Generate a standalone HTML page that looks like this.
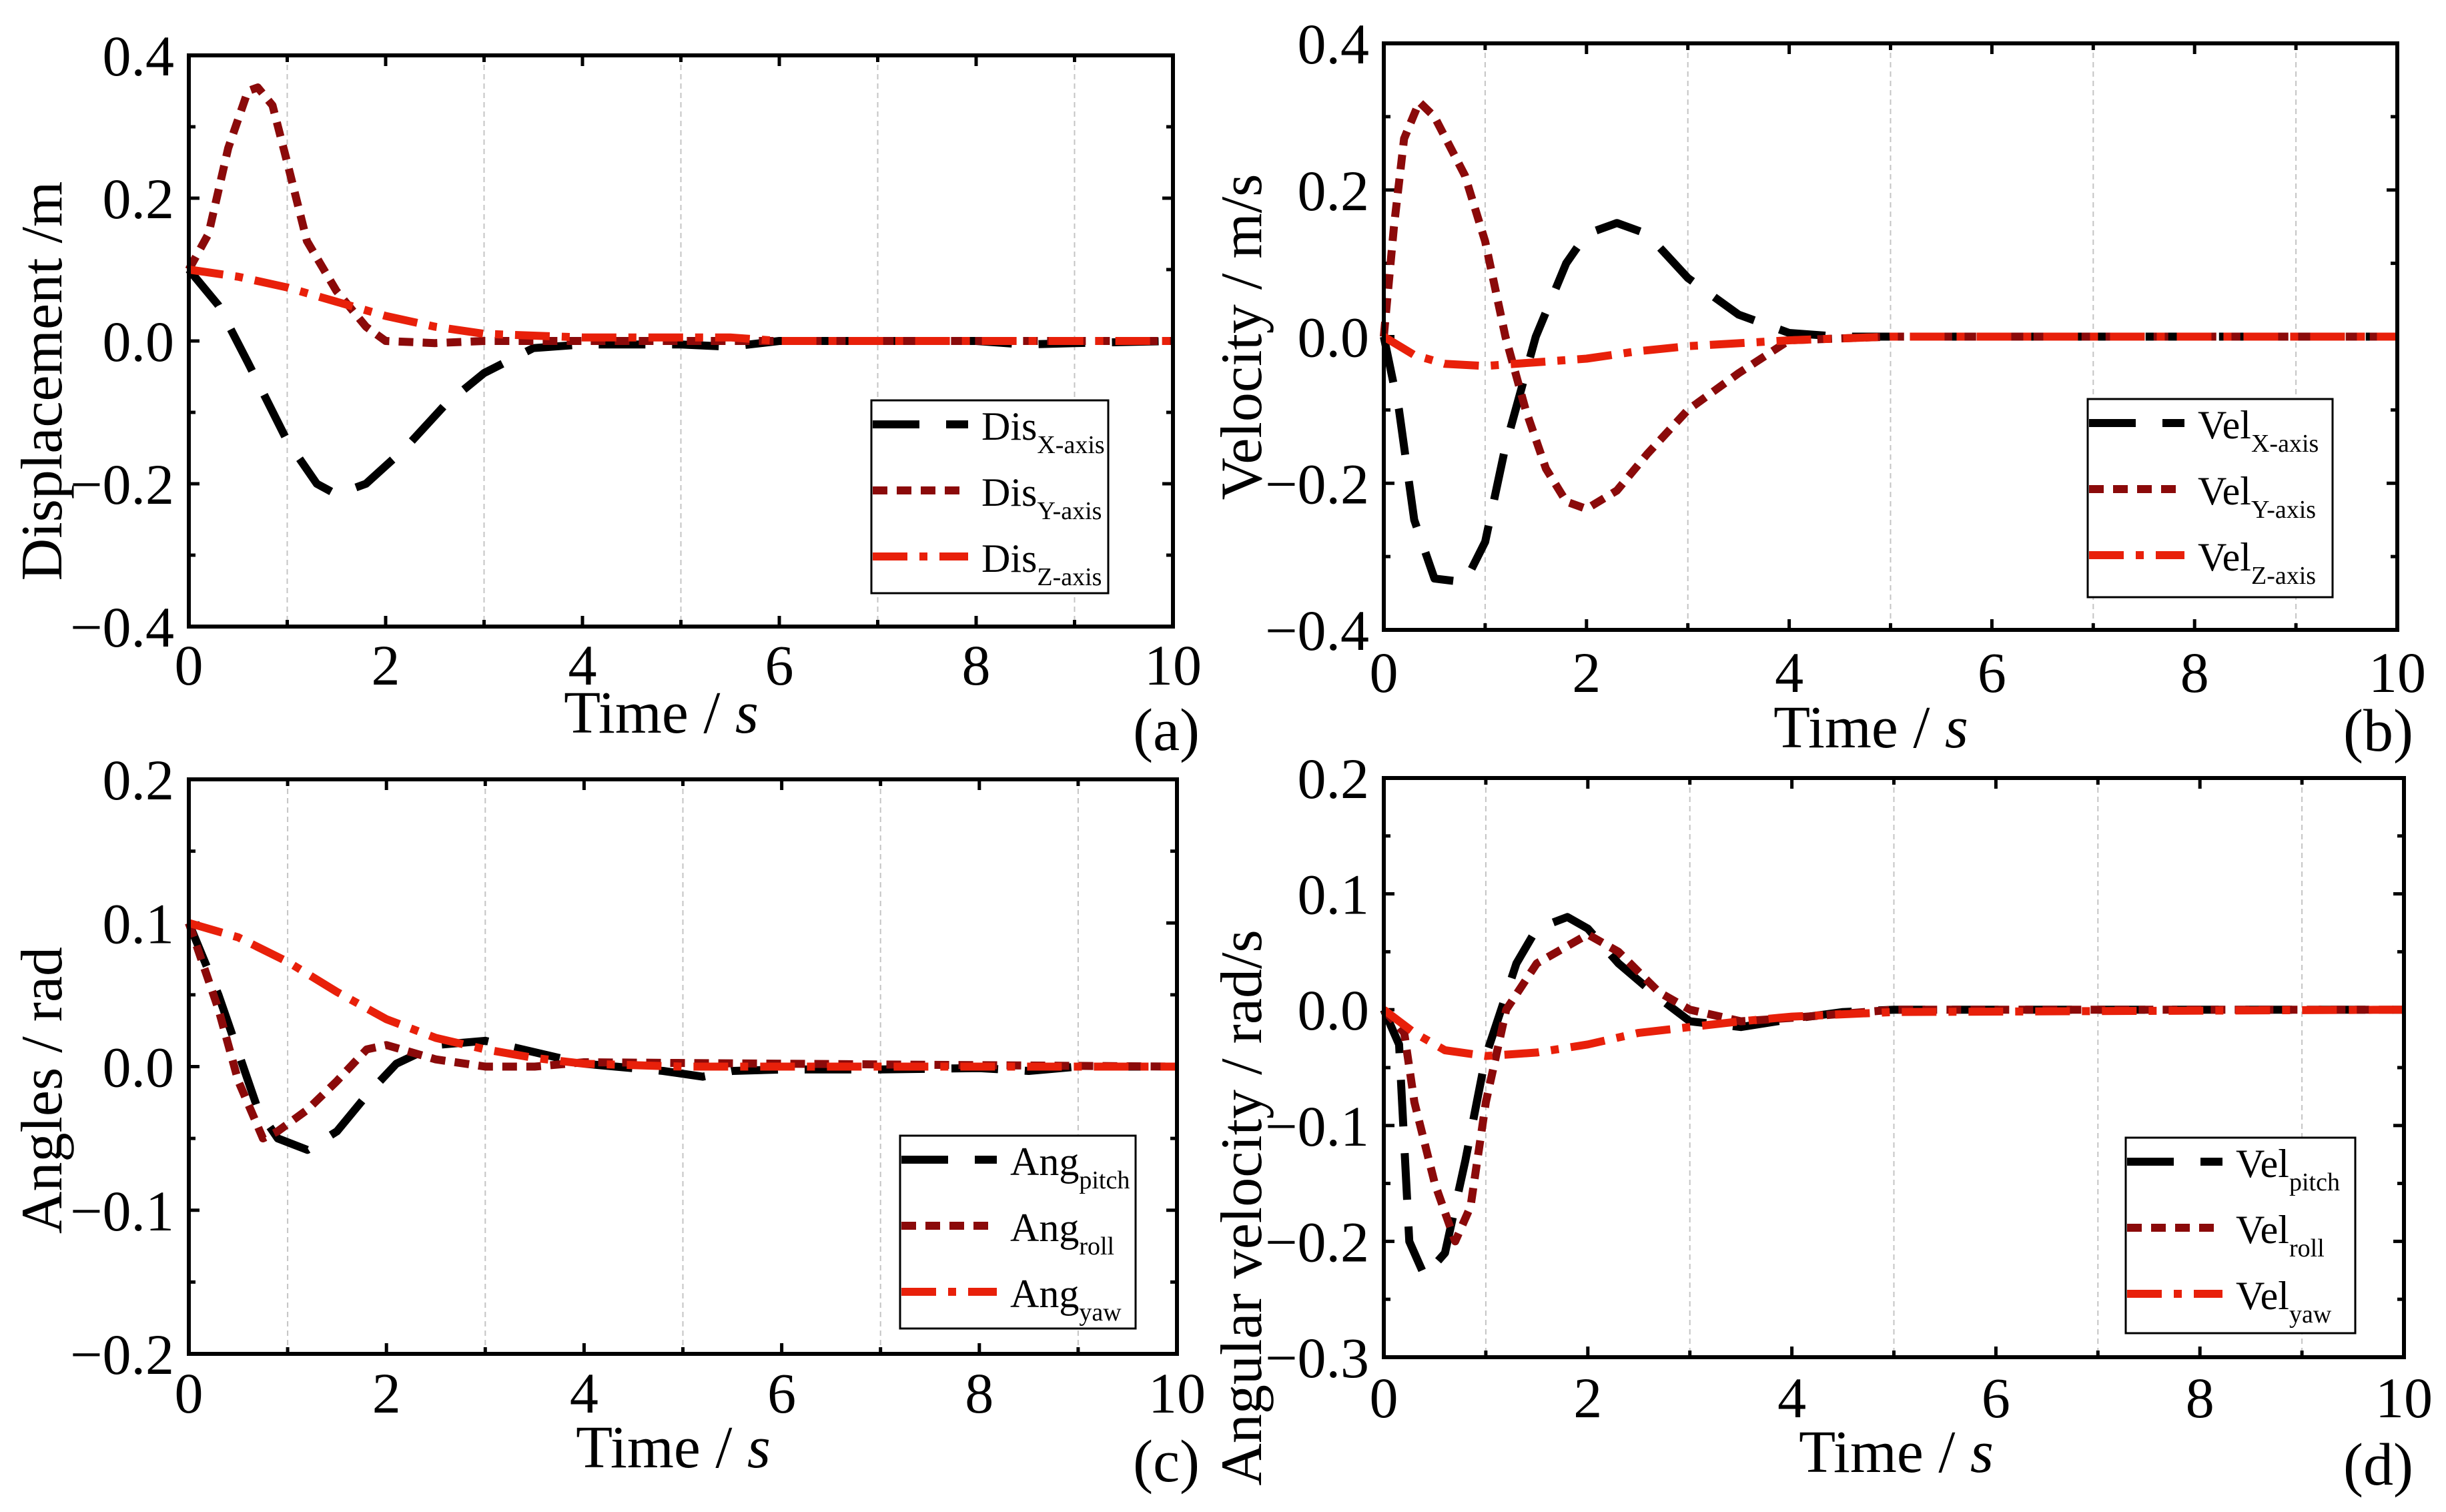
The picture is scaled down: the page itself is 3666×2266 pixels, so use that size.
<!DOCTYPE html>
<html><head><meta charset="utf-8"><style>
html,body{margin:0;padding:0;background:#fff;}
svg{display:block;font-family:"Liberation Serif",serif;}
</style></head><body>
<svg id="fig" width="3666" height="2266" viewBox="0 0 3666 2266" xmlns="http://www.w3.org/2000/svg"></svg>
<script>
// ---- data (time in s) ----
const aT_X=[0,0.3,0.6,1.0,1.3,1.5,1.8,2.2,2.6,3.0,3.5,4,5,5.5,6,7,8,8.5,9,10];
const aV_X=[0.1,0.05,-0.03,-0.14,-0.2,-0.215,-0.2,-0.15,-0.09,-0.045,-0.01,-0.005,-0.005,-0.008,0,0,0,-0.005,-0.003,0];
const aT_Y=[0,0.2,0.4,0.6,0.7,0.85,1.0,1.2,1.5,1.8,2,2.5,3,4,10];
const aV_Y=[0.1,0.15,0.27,0.35,0.355,0.33,0.25,0.14,0.07,0.02,0,-0.003,0,0,0];
const aT_Z=[0,0.5,1,1.5,2,2.5,3,4,5,5.5,6,10];
const aV_Z=[0.1,0.09,0.075,0.055,0.035,0.02,0.01,0.005,0.005,0.005,0,0];

const bT_X=[0,0.15,0.3,0.5,0.8,1.0,1.2,1.5,1.8,2,2.3,2.6,3,3.5,4,4.5,10];
const bV_X=[0,-0.1,-0.25,-0.33,-0.335,-0.28,-0.15,0,0.1,0.14,0.155,0.14,0.08,0.03,0.005,0,0];
const bT_Y=[0,0.1,0.2,0.35,0.5,0.8,1.0,1.2,1.4,1.6,1.8,2,2.3,2.6,3,3.5,4,5,10];
const bV_Y=[0,0.15,0.27,0.32,0.3,0.22,0.13,0.0,-0.1,-0.18,-0.225,-0.235,-0.21,-0.16,-0.1,-0.05,-0.005,0,0];
const bT_Z=[0,0.3,0.6,1,1.5,2,2.5,3,4,5,10];
const bV_Z=[0,-0.025,-0.037,-0.04,-0.035,-0.03,-0.02,-0.013,-0.005,0,0];

const cT_P=[0,0.3,0.5,0.7,0.9,1.2,1.5,1.8,2.1,2.5,3,3.5,4,4.8,5.2,5.5,6,7,8,8.5,9,10];
const cV_P=[0.1,0.05,0.01,-0.03,-0.05,-0.058,-0.045,-0.02,0.002,0.015,0.018,0.01,0.002,-0.003,-0.007,-0.003,-0.002,-0.002,-0.001,-0.003,0,0];
const cT_R=[0,0.3,0.5,0.75,0.9,1.2,1.5,1.8,2,2.5,3,3.5,4,10];
const cV_R=[0.1,0.04,-0.01,-0.05,-0.045,-0.03,-0.01,0.012,0.015,0.005,0,0,0.003,0];
const cT_Yw=[0,0.5,1,1.5,2,2.5,3,3.5,4,5,10];
const cV_Yw=[0.1,0.09,0.073,0.052,0.033,0.02,0.012,0.006,0.002,0,0];

const dT_P=[0,0.15,0.25,0.4,0.6,0.8,1.0,1.3,1.5,1.8,2,2.3,2.7,3,3.5,4,4.5,5,10];
const dV_P=[0,-0.03,-0.2,-0.23,-0.21,-0.13,-0.04,0.04,0.07,0.08,0.07,0.04,0.01,-0.01,-0.015,-0.008,-0.002,0,0];
const dT_R=[0,0.2,0.3,0.5,0.7,0.85,1.0,1.2,1.5,2,2.3,2.7,3,3.5,4,5,10];
const dV_R=[0,-0.02,-0.08,-0.15,-0.2,-0.17,-0.08,0,0.04,0.065,0.05,0.015,0,-0.01,-0.007,0,0];
const dT_Yw=[0,0.3,0.6,1,1.5,2,2.5,3,3.5,4,5,10];
const dV_Yw=[0,-0.02,-0.035,-0.04,-0.037,-0.03,-0.02,-0.015,-0.01,-0.006,-0.002,0];

const xTickLabels=["0","2","4","6","8","10"];

const NS="http://www.w3.org/2000/svg";
const svg=document.getElementById('fig');
function mk(tag,attrs,parent){const e=document.createElementNS(NS,tag);for(const k in attrs)e.setAttribute(k,attrs[k]);(parent||svg).appendChild(e);return e;}

const STY=[
 {stroke:"#000000",dash:"70 40"},
 {stroke:"#8b0a0a",dash:"22 14"},
 {stroke:"#e8200a",dash:"52 18 12 18"}
];

function panel(p){
  const g=mk('g',{});
  
  
  const {x0,x1,y0,y1,ymin,ymax}=p;
  const sx=t=>x0+(t/10)*(x1-x0);
  const sy=v=>y1-(v-ymin)/(ymax-ymin)*(y1-y0);
  for(let t=1;t<10;t+=2){
    const l=mk('line',{x1:sx(t),x2:sx(t),y1:y0,y2:y1,stroke:"#c4c4c4","stroke-width":2,"stroke-dasharray":"8 6"},g);
    
    
  }
  for(let t=0;t<=10;t++){
    const L=(t%2===0)?16:10;
    mk('line',{x1:sx(t),x2:sx(t),y1:y1,y2:y1-L,stroke:"#000","stroke-width":5},g);
    mk('line',{x1:sx(t),x2:sx(t),y1:y0,y2:y0+L,stroke:"#000","stroke-width":5},g);
  }
  xTickLabels.forEach((lab,i)=>{
    const tx=mk('text',{x:sx(i*2),y:p.xlabY,"font-size":86,"text-anchor":"middle"},g);
    tx.textContent=lab;
    
    
  });
  const nMinor=Math.round((ymax-ymin)/(p.ystep/2));
  for(let i=0;i<=nMinor;i++){
    const v=ymin+i*p.ystep/2;const major=i%2===0;const L=major?16:10;
    mk('line',{x1:x0,x2:x0+L,y1:sy(v),y2:sy(v),stroke:"#000","stroke-width":5},g);
    mk('line',{x1:x1,x2:x1-L,y1:sy(v),y2:sy(v),stroke:"#000","stroke-width":5},g);
    if(major){
      const tx=mk('text',{x:x0-22,y:sy(v)+30,"font-size":86,"text-anchor":"end"},g);
      const s=Math.abs(v)<1e-9?"0.0":(v<0?"\u2212"+Math.abs(v).toFixed(1):v.toFixed(1));
      tx.textContent=s;
      
      
    }
  }
  p.series.forEach((s,k)=>{
    const d=s.t.map((t,i)=>(i?"L":"M")+sx(t).toFixed(1)+","+sy(s.v[i]).toFixed(1)).join(" ");
    const path=mk('path',{d:d,fill:"none",stroke:STY[k].stroke,"stroke-width":12,"stroke-dasharray":STY[k].dash,"stroke-linejoin":"round"},g);
    
    
  });
  const fr=mk('rect',{x:x0,y:y0,width:x1-x0,height:y1-y0,fill:"none",stroke:"#000","stroke-width":6},g);
  
  
  const lg=mk('g',{},g);
  
  
  mk('rect',{x:p.lg[0],y:p.lg[1],width:p.lg[2]-p.lg[0],height:p.lg[3]-p.lg[1],fill:"#fff",stroke:"#000","stroke-width":3},lg);
  p.series.forEach((s,k)=>{
    const ry=p.lg[1]+36+k*99;
    mk('line',{x1:p.lg[0]+2,x2:p.lg[0]+145,y1:ry,y2:ry,stroke:STY[k].stroke,"stroke-width":12,"stroke-dasharray":STY[k].dash},lg);
    const tx=mk('text',{x:p.lg[0]+165,y:ry+23,"font-size":60},lg);
    
    
    tx.appendChild(document.createTextNode(p.base));
    const sub=mk('tspan',{"font-size":38,dy:20},tx);
    sub.textContent=s.name;
  });
  const xt=mk('text',{x:p.xtitle[0],y:p.xtitle[1],"font-size":90,"text-anchor":"middle"},g);
  
  
  xt.appendChild(document.createTextNode("Time / "));
  const it=mk('tspan',{"font-style":"italic"},xt);it.textContent="s";
  const yt=mk('text',{x:0,y:0,"font-size":88,"text-anchor":"middle",transform:`translate(${p.ytitle[0]},${p.ytitle[1]}) rotate(-90)`},g);
  yt.textContent=p.ylabel;
  
  
  const pl=mk('text',{x:p.letter[0],y:p.letter[1],"font-size":90,"text-anchor":"end"},g);
  pl.textContent="("+p.id+")";
  
  
}

panel({id:"a",x0:283,x1:1758,y0:83,y1:939,ymin:-0.4,ymax:0.4,ystep:0.2,xlabY:1026,
  lg:[1306,600,1661,889],base:"Dis",xtitle:[991,1098],ytitle:[92,571],ylabel:"Displacement /m",letter:[1798,1124],
  series:[{name:"X-axis",t:aT_X,v:aV_X},{name:"Y-axis",t:aT_Y,v:aV_Y},{name:"Z-axis",t:aT_Z,v:aV_Z}]});
panel({id:"b",x0:2074,x1:3593,y0:65,y1:944,ymin:-0.4,ymax:0.4,ystep:0.2,xlabY:1037,
  lg:[3129,598,3496,895],base:"Vel",xtitle:[2804,1120],ytitle:[1890,505],ylabel:"Velocity / m/s",letter:[3617,1125],
  series:[{name:"X-axis",t:bT_X,v:bV_X},{name:"Y-axis",t:bT_Y,v:bV_Y},{name:"Z-axis",t:bT_Z,v:bV_Z}]});
panel({id:"c",x0:283,x1:1764,y0:1168,y1:2029,ymin:-0.2,ymax:0.2,ystep:0.1,xlabY:2117,
  lg:[1349,1702,1702,1991],base:"Ang",xtitle:[1009,2199],ytitle:[92,1634],ylabel:"Angles / rad",letter:[1798,2220],
  series:[{name:"pitch",t:cT_P,v:cV_P},{name:"roll",t:cT_R,v:cV_R},{name:"yaw",t:cT_Yw,v:cV_Yw}]});
panel({id:"d",x0:2074,x1:3603,y0:1166,y1:2034,ymin:-0.3,ymax:0.2,ystep:0.1,xlabY:2124,
  lg:[3186,1705,3530,1998],base:"Vel",xtitle:[2842,2206],ytitle:[1890,1810],ylabel:"Angular velocity / rad/s",letter:[3617,2225],
  series:[{name:"pitch",t:dT_P,v:dV_P},{name:"roll",t:dT_R,v:dV_R},{name:"yaw",t:dT_Yw,v:dV_Yw}]});
</script>
</body></html>
